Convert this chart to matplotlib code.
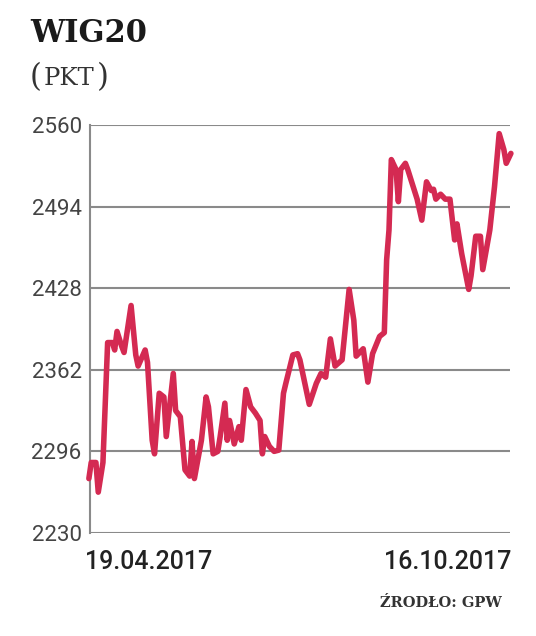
import matplotlib
matplotlib.use("Agg")
import matplotlib.pyplot as plt

# trading path WIG20, 19.04.2017 - 16.10.2017 (day offset, index value)
days = [0, 1, 3, 4, 6, 8, 10, 11, 12, 14, 15, 18, 20, 21, 24, 25, 27, 28, 30, 32,
        33, 36, 37, 39, 41, 43, 44, 45, 48, 50, 51, 53, 55, 56, 58, 59, 60, 62, 64, 65,
        67, 69, 71, 73, 74, 75, 77, 79, 81, 83, 84, 87, 89, 90, 94, 97, 99, 101, 103, 105,
        108, 111, 113, 114, 117, 119, 121, 124, 126, 127, 128, 129, 131, 132, 133, 135, 136, 138, 140, 142,
        144, 146, 147, 148, 150, 152, 154, 156, 157, 159, 162, 163, 165, 167, 168, 171, 173, 175, 177, 178,
        180]
values = [2274, 2287, 2287, 2263, 2287, 2384, 2384, 2378, 2393, 2381, 2376, 2414, 2374, 2365, 2378, 2368, 2305, 2294, 2343, 2340,
          2308, 2359, 2329, 2324, 2281, 2276, 2304, 2274, 2305, 2340, 2332, 2294, 2296, 2308, 2335, 2305, 2321, 2302, 2316, 2305,
          2346, 2332, 2327, 2321, 2294, 2308, 2300, 2296, 2297, 2343, 2351, 2374, 2375, 2370, 2334, 2351, 2359, 2356, 2387, 2365,
          2370, 2427, 2402, 2373, 2379, 2352, 2375, 2389, 2392, 2451, 2475, 2532, 2524, 2498, 2524, 2529, 2524, 2512, 2500, 2483,
          2514, 2507, 2508, 2500, 2504, 2500, 2500, 2467, 2480, 2456, 2427, 2438, 2470, 2470, 2443, 2475, 2510, 2553, 2540, 2529,
          2537]

y_ticks = [2230, 2296, 2362, 2428, 2494, 2560]
start_label = "19.04.2017"
end_label = "16.10.2017"

fig = plt.figure(figsize=(5.36, 6.36), dpi=100)
ax = fig.add_axes([0.168, 0.162, 0.783, 0.6415])

ax.plot(days, values, color="#d42a52", lw=4, solid_joinstyle="round",
        solid_capstyle="round", clip_on=False, zorder=3)

ax.set_ylim(2230, 2560)
ax.set_xlim(0.5, 179.5)
ax.set_yticks(y_ticks)
ax.set_xticks([])
ax.grid(axis="y", color="#8a8a8a", lw=1.5)
for s in ["top", "right", "bottom"]:
    ax.spines[s].set_visible(False)
ax.spines["left"].set_color("#8a8a8a")
ax.spines["left"].set_linewidth(1.5)
ax.tick_params(axis="y", length=0, pad=6, labelsize=16, labelcolor="#444444")
for lab in ax.get_yticklabels():
    lab.set_family("Roboto")

fig.text(30 / 536, 1 - 42 / 636, "WIG20", family="DejaVu Serif", weight="bold",
         fontsize=22, color="#1a1a1a", va="baseline", ha="left")
# "(PKT)" in small-caps look: tall brackets, smaller letters
fig.text(30 / 536, 1 - 86 / 636, "(", family="DejaVu Serif",
         fontsize=22, color="#333333", va="baseline", ha="left")
fig.text(44 / 536, 1 - 85 / 636, "PKT", family="DejaVu Serif",
         fontsize=17.5, color="#333333", va="baseline", ha="left")
fig.text(97 / 536, 1 - 86 / 636, ")", family="DejaVu Serif",
         fontsize=22, color="#333333", va="baseline", ha="left")

fig.text(85 / 536, 1 - 569 / 636, start_label, family="Roboto", weight="medium",
         fontsize=18, color="#222222", va="baseline", ha="left")
fig.text(511 / 536, 1 - 569 / 636, end_label, family="Roboto", weight="medium",
         fontsize=18, color="#222222", va="baseline", ha="right")
fig.text(502 / 536, 1 - 607 / 636, "ŹRODŁO: GPW", family="DejaVu Serif", weight="bold",
         fontsize=10.5, color="#333333", va="baseline", ha="right")

fig.savefig("out.png", dpi=100, facecolor="white")
